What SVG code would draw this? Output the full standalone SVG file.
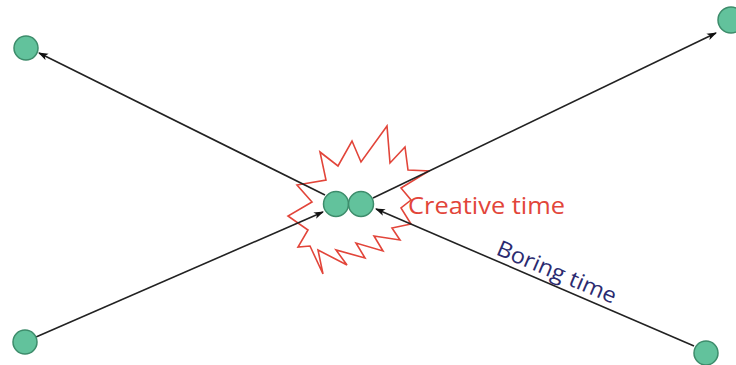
<svg xmlns="http://www.w3.org/2000/svg" width="736" height="365" viewBox="0 0 736 365">
<style>
.node{fill:#62c29c;stroke:#3d8c6b;stroke-width:1.5}
.edge{stroke:#222;stroke-width:1.6;fill:none;marker-end:url(#arr)}
.burst{fill:none;stroke:#e2453a;stroke-width:1.6;stroke-linejoin:miter}
.lbl{font-family:"Open Sans","DejaVu Sans",sans-serif}
</style>
<defs>
<marker id="arr" markerWidth="10" markerHeight="8" refX="9" refY="4" orient="auto" markerUnits="userSpaceOnUse">
<path d="M0,0.5 L10,4 L0,7.5 L2.5,4 Z" fill="#111"/>
</marker>
</defs>
<rect width="736" height="365" fill="#fff"/>
<polygon class="burst" points="320,152 338,166 352,141 361,162 387,126 390,163 405,147 408,170 429,171 401,188 411,200 401,208 411,224 392,228 400,240 374,236 383,251 356,243 365,258 336,250 347,265 318,250 323,274 310,246 298,247 308,230 288,216 312,202 297,185 326,180"/>
<g id="connectors">
<line class="edge" x1="325" y1="195" x2="39" y2="53"/>
<line class="edge" x1="36" y1="337" x2="323" y2="212"/>
<line class="edge" x1="373" y1="198" x2="716" y2="33"/>
<line class="edge" x1="694" y1="346" x2="376" y2="209"/>
</g>
<g id="n-tl"><circle class="node" cx="26" cy="48" r="12"/></g>
<g id="n-tr"><circle class="node" cx="731" cy="20" r="13"/></g>
<g id="n-bl"><circle class="node" cx="25" cy="342" r="12"/></g>
<g id="n-br"><circle class="node" cx="706" cy="353" r="12"/></g>
<g id="n-c1"><circle class="node" cx="336" cy="204" r="12.5"/></g>
<g id="n-c2"><circle class="node" cx="361" cy="204" r="12.5"/></g>
<text class="lbl" x="408" y="214" font-size="24" fill="#e2453a" textLength="157" lengthAdjust="spacingAndGlyphs">Creative time</text>
<text class="lbl" transform="translate(495,254) rotate(23)" font-size="22" fill="#2b2b70" textLength="128" lengthAdjust="spacingAndGlyphs">Boring time</text>
</svg>
